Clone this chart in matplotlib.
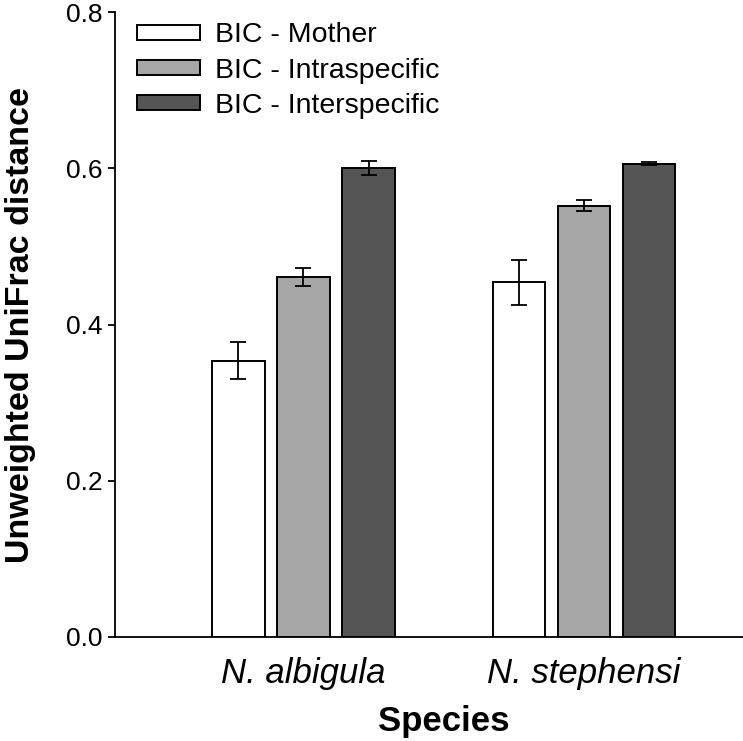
import matplotlib
matplotlib.use("Agg")
import matplotlib.pyplot as plt
import numpy as np

plt.rcParams['font.family'] = ['Liberation Sans', 'DejaVu Sans']

species = ["N. albigula", "N. stephensi"]
series = ["BIC - Mother", "BIC - Intraspecific", "BIC - Interspecific"]
means = {
    "BIC - Mother": [0.354, 0.454],
    "BIC - Intraspecific": [0.461, 0.552],
    "BIC - Interspecific": [0.601, 0.606],
}
errors = {
    "BIC - Mother": [0.024, 0.029],
    "BIC - Intraspecific": [0.011, 0.007],
    "BIC - Interspecific": [0.009, 0.002],
}
colors = ["#ffffff", "#a6a6a6", "#555555"]
yticks = [0.0, 0.2, 0.4, 0.6, 0.8]

fig = plt.figure(figsize=(7.43, 7.41), dpi=100)
ax = fig.add_axes([115/743, 1-637/741, 1-115/743, (637-12.3)/741])

x = np.arange(1, len(species)+1)
offset = 0.232
width = 0.187
for i, s in enumerate(series):
    ax.bar(x + (i-1)*offset, means[s], width, yerr=errors[s], color=colors[i],
           edgecolor="black", linewidth=1.4, label=s,
           error_kw=dict(ecolor="black", elinewidth=1.3, capsize=5.5, capthick=1.3))

ax.set_xlim(0.328, 2.567)
ax.set_ylim(0, 0.8)
ax.set_yticks(yticks)
ax.set_yticklabels([f"{t:.1f}" for t in yticks], fontsize=19)
ax.set_xticks(x)
ax.set_xticklabels(species, fontsize=25, fontstyle="italic")
ax.tick_params(axis='x', length=0, pad=14.5)
ax.tick_params(axis='y', length=5, width=1.3, direction='out', pad=4)
for sp in ["top", "right"]:
    ax.spines[sp].set_visible(False)
for sp in ["left", "bottom"]:
    ax.spines[sp].set_linewidth(1.3)

ax.set_ylabel("Unweighted UniFrac distance", fontsize=24.5, fontweight="bold")
ax.yaxis.set_label_coords(-0.125, 0.499)
ax.set_xlabel("Species", fontsize=25, fontweight="bold")
ax.xaxis.set_label_coords(0.524, -0.109)

ax.legend(loc="upper left", bbox_to_anchor=(0.035, 0.9837), frameon=False, fontsize=20.5,
          handlelength=2.2, handleheight=0.42, handletextpad=0.55, labelspacing=0.32,
          borderaxespad=0, borderpad=0)

fig.savefig("out.png", dpi=100)
